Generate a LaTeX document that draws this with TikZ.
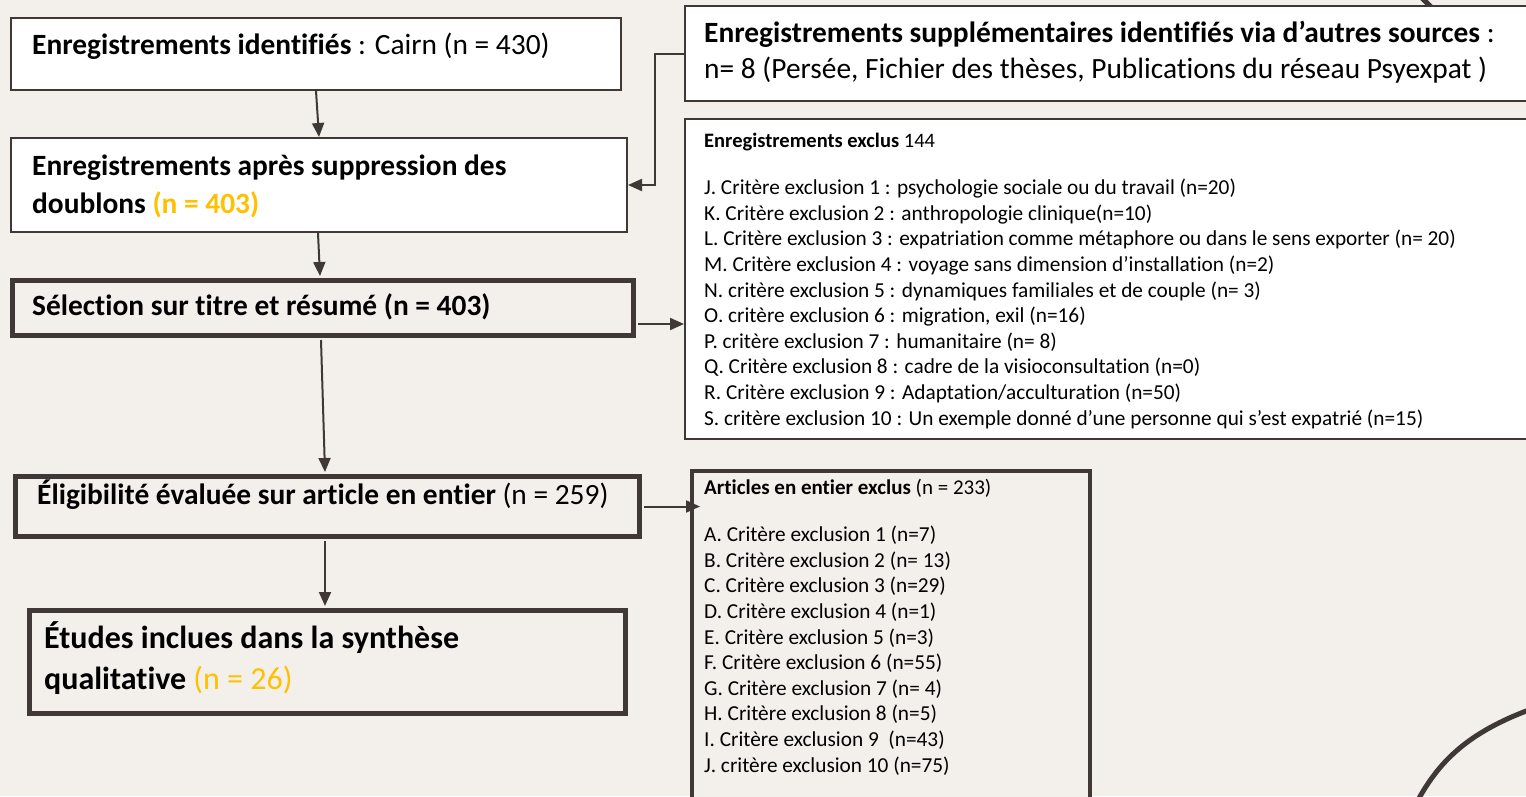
\documentclass[tikz,border=0pt]{standalone}
\usepackage{fontspec}
\setmainfont{Carlito}[Ligatures={NoCommon,NoContextual}, Contextuals={NoAlternate}, RawFeature={-liga}]
\usetikzlibrary{arrows.meta, calc}
\definecolor{fond}{RGB}{243,240,236}
\definecolor{trait}{RGB}{64,56,54}
\definecolor{jaune}{RGB}{255,192,0}

\begin{document}
\begin{tikzpicture}[
		x=1pt, y=-1pt,
		box/.style={rectangle, draw=trait, line width=2pt, fill=white, inner sep=0pt, anchor=north west},
		boxgras/.style={box, line width=5pt, fill=fond},
		txt/.style={inner sep=0pt, anchor=base west, align=left},
		fleche/.style={draw=trait, line width=2pt, -{Triangle[length=14pt,width=12pt]}}]
	\useasboundingbox (0,0) rectangle (1526,796);
	\fill[fond] (0,0) rectangle (1526,796);
	\clip (0,0) rectangle (1526,796);
	% traits du fond
	\draw[trait, line width=5pt] (1418,-6) -- (1436,12);
	\draw[trait, line width=5pt] (1418,800) .. controls (1440,760) and (1470,730) .. (1540,706);
	
	% colonne de gauche
	\node[box, minimum width=610, minimum height=72] (1) at (10,17) {};
	\node[box, minimum width=616, minimum height=94] (2) at (10,137) {};
	\node[boxgras, minimum width=621, minimum height=55] (3) at (10,278) {};
	\node[boxgras, minimum width=624, minimum height=60] (4) at (13,474) {};
	\node[boxgras, minimum width=596, minimum height=103] (5) at (27,608) {};
	% colonne de droite
	\node[box, minimum width=860, minimum height=95] (6) at (684,5) {};
	\node[box, minimum width=860, minimum height=320] (7) at (684,118) {};
	\node[boxgras, line width=4pt, minimum width=398, minimum height=340] (8) at (690,469) {};
	
	% textes (base = derniere ligne)
	\node[txt, font=\fontsize{29.4}{38}\selectfont] (t1) at ($(1.north west)+(22,37)$) {\textbf{Enregistrements identifiés} : Cairn (n = 430)};
	\node[txt, font=\fontsize{29.4}{38}\selectfont\bfseries] (t2) at ($(2.north west)+(22,76)$) {Enregistrements après suppression des\\doublons \textcolor{jaune}{(n = 403)}};
	\node[txt, font=\fontsize{29.4}{38}\selectfont\bfseries] (t3) at ($(3.north west)+(22,37)$) {Sélection sur titre et résumé (n = 403)};
	\node[txt, font=\fontsize{29.4}{38}\selectfont] (t4) at ($(4.north west)+(24,30)$) {\textbf{Éligibilité évaluée sur article en entier} (n = 259)};
	\node[txt, font=\fontsize{32}{41}\selectfont] (t5) at ($(5.north west)+(17,81)$) {\textbf{Études inclues dans la synthèse}\\\textbf{qualitative} \textcolor{jaune}{(n = 26)}};
	
	\node[txt, font=\fontsize{29.4}{36}\selectfont] (t6) at ($(6.north west)+(20,73)$) {\textbf{Enregistrements supplémentaires identifiés via d’autres sources} :\\n= 8 (Persée, Fichier des thèses, Publications du réseau Psyexpat )};
	\node[txt, font=\fontsize{20.5}{25.6}\selectfont] (t7) at ($(7.north west)+(20,29)$) {\textbf{Enregistrements exclus} 144};
	\node[txt, font=\fontsize{21.3}{25.6}\selectfont] (l7) at ($(7.north west)+(20,307)$) {J. Critère exclusion 1 : psychologie sociale ou du travail (n=20)\\
		K. Critère exclusion 2 : anthropologie clinique(n=10)\\
		L. Critère exclusion 3 : expatriation comme métaphore ou dans le sens exporter (n= 20)\\
		M. Critère exclusion 4 : voyage sans dimension d’installation (n=2)\\
		N. critère exclusion 5 : dynamiques familiales et de couple (n= 3)\\
		O. critère exclusion 6 : migration, exil (n=16)\\
		P. critère exclusion 7 : humanitaire (n= 8)\\
		Q. Critère exclusion 8 : cadre de la visioconsultation (n=0)\\
		R. Critère exclusion 9 : Adaptation/acculturation (n=50)\\
		S. critère exclusion 10 : Un exemple donné d’une personne qui s’est expatrié (n=15)};
	\node[txt, font=\fontsize{21}{25.6}\selectfont] (t8) at ($(8.north west)+(14,25)$) {\textbf{Articles en entier exclus} (n = 233)};
	\node[txt, font=\fontsize{21.3}{25.6}\selectfont] (l8) at ($(8.north west)+(14,303)$) {A. Critère exclusion 1 (n=7)\\
		B. Critère exclusion 2 (n= 13)\\
		C. Critère exclusion 3 (n=29)\\
		D. Critère exclusion 4 (n=1)\\
		E. Critère exclusion 5 (n=3)\\
		F. Critère exclusion 6 (n=55)\\
		G. Critère exclusion 7 (n= 4)\\
		H. Critère exclusion 8 (n=5)\\
		I. Critère exclusion 9~ (n=43)\\
		J. critère exclusion 10 (n=75)};
	
	\draw[fleche] ($(1.south west)+(306,0)$) -- ($(2.north west)+(309,0)$);
	\draw[fleche] ($(2.south west)+(308,0)$) -- ($(3.north west)+(310,-2)$);
	\draw[fleche] ($(3.south west)+(311,2)$) -- ($(4.north west)+(312,-2)$);
	\draw[fleche] ($(4.south west)+(312,2)$) -- ($(5.north west)+(298,-2)$);
	\draw[fleche] (6.west) -- ++(-29,0) |- (2.east);
	\draw[fleche] ($(3.south east)+(2,-14)$) -- ($(7.west |- 3.south east)+(0,-14)$);
	\draw[fleche] ($(4.east)+(2,0)$) -- ($(8.west |- 4.east)+(10,0)$);
\end{tikzpicture}
\end{document}
